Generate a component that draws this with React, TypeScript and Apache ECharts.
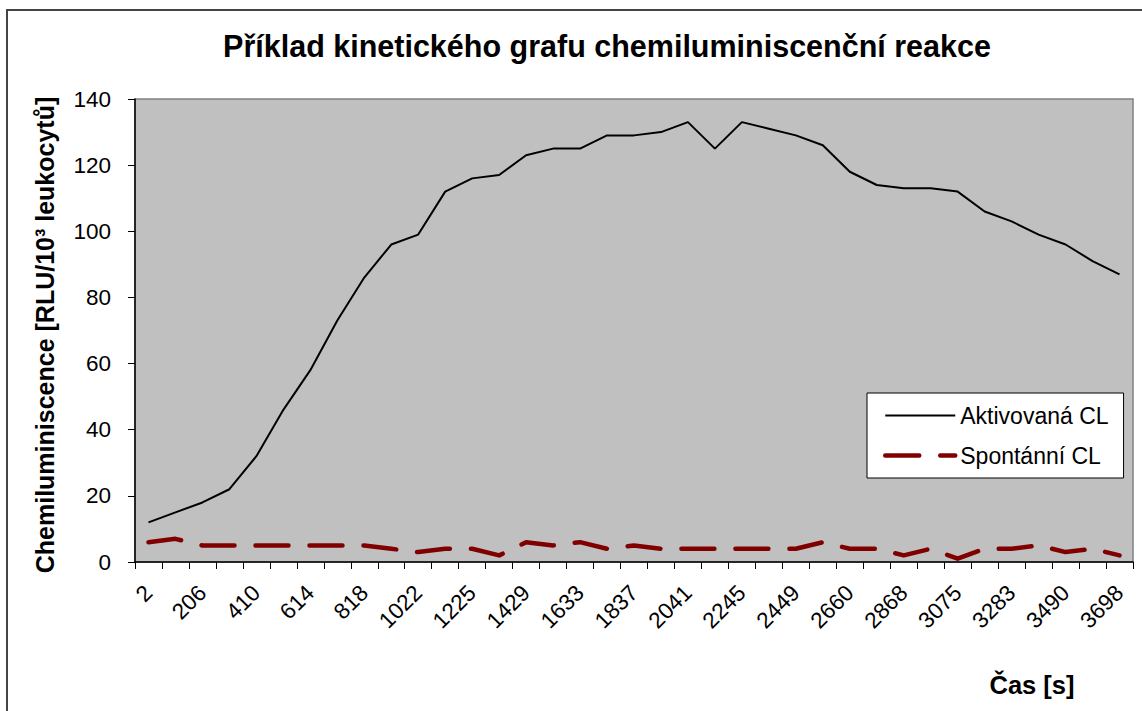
import React, { useEffect, useRef } from "react";
import * as echarts from "echarts";

const categories = [
  "2", "104", "206", "308", "410", "512", "614", "716", "818", "920",
  "1022", "1124", "1225", "1327", "1429", "1531", "1633", "1735", "1837", "1939",
  "2041", "2143", "2245", "2347", "2449", "2555", "2660", "2764", "2868", "2972",
  "3075", "3179", "3283", "3387", "3490", "3594", "3698",
];

const aktivovana = [
  12, 15, 18, 22, 32, 46, 58, 73, 86, 96,
  99, 112, 116, 117, 123, 125, 125, 129, 129, 130,
  133, 125, 133, 131, 129, 126, 118, 114, 113, 113,
  112, 106, 103, 99, 96, 91, 87,
];

const spontanni = [
  6, 7, 5, 5, 5, 5, 5, 5, 5, 4,
  3, 4, 4, 2, 6, 5, 6, 4, 5, 4,
  4, 4, 4, 4, 4, 6, 4, 4, 2, 4,
  1, 4, 4, 5, 3, 4, 2,
];

const titleText = "Příklad kinetického grafu chemiluminiscenční reakce";
const yAxisTitle = "Chemiluminiscence [RLU/10³ leukocytů]";
const xAxisTitle = "Čas [s]";
const seriesNames = ["Aktivovaná CL", "Spontánní CL"];

const FONT = "'Liberation Sans', Arial, sans-serif";

export default function App() {
  const ref = useRef<HTMLDivElement>(null);

  useEffect(() => {
    if (!ref.current) return;
    const chart = echarts.init(ref.current, undefined, { renderer: "svg" });
    chart.setOption({
      animation: false,
      backgroundColor: "#ffffff",
      textStyle: { fontFamily: FONT },
      grid: {
        left: 135,
        right: 9,
        top: 99,
        bottom: 149,
        show: true,
        backgroundColor: "#C0C0C0",
        borderColor: "#808080",
        borderWidth: 1.5,
      },
      graphic: [
        {
          type: "rect",
          shape: { x: 7, y: 10, width: 1200, height: 800 },
          style: { fill: "none", stroke: "#444444", lineWidth: 2 },
          z: -10,
          silent: true,
        },
        {
          type: "text",
          x: 607,
          y: 46,
          style: {
            text: titleText,
            font: `bold 30.5px ${FONT}`,
            fill: "#000",
            textAlign: "center",
            textVerticalAlign: "middle",
          },
        },
        {
          type: "text",
          x: 45,
          y: 335,
          rotation: Math.PI / 2,
          style: {
            text: yAxisTitle,
            font: `bold 25px ${FONT}`,
            fill: "#000",
            textAlign: "center",
            textVerticalAlign: "middle",
          },
        },
        {
          type: "text",
          x: 1032,
          y: 685,
          style: {
            text: xAxisTitle,
            font: `bold 25.5px ${FONT}`,
            fill: "#000",
            textAlign: "center",
            textVerticalAlign: "middle",
          },
        },
      ],
      legend: {
        orient: "vertical",
        left: 867,
        top: 393,
        backgroundColor: "#ffffff",
        borderColor: "#000000",
        borderWidth: 1,
        borderRadius: 0,
        padding: [11, 15, 11, 16],
        itemWidth: 70,
        itemHeight: 16,
        itemGap: 17,
        itemTextGap: 6,
        itemStyle: { opacity: 0 },
        textStyle: { fontFamily: FONT, fontSize: 23, color: "#000" },
        data: [
          {
            name: seriesNames[0],
            lineStyle: { color: "#000000", width: 2 },
          },
          {
            name: seriesNames[1],
            lineStyle: {
              color: "#800000",
              width: 4.5,
              type: [34, 21],
              cap: "round",
            },
          },
        ],
      },
      xAxis: {
        type: "category",
        data: categories,
        boundaryGap: true,
        axisLine: { show: true, lineStyle: { color: "#000", width: 1.5 } },
        axisTick: { show: true, interval: 0, length: 7, lineStyle: { color: "#000" } },
        axisLabel: {
          interval: 1,
          rotate: 45,
          margin: 27,
          fontFamily: FONT,
          fontSize: 22.5,
          color: "#000",
        },
        splitLine: { show: false },
      },
      yAxis: {
        type: "value",
        min: 0,
        max: 140,
        interval: 20,
        axisLine: { show: true, lineStyle: { color: "#000", width: 1.5 } },
        axisTick: { show: true, length: 7, lineStyle: { color: "#000" } },
        axisLabel: {
          margin: 24,
          fontFamily: FONT,
          fontSize: 22.5,
          color: "#000",
        },
        splitLine: { show: false },
      },
      series: [
        {
          name: seriesNames[0],
          type: "line",
          data: aktivovana,
          symbol: "none",
          lineStyle: { color: "#000000", width: 2 },
          itemStyle: { color: "#000000" },
        },
        {
          name: seriesNames[1],
          type: "line",
          data: spontanni,
          symbol: "none",
          lineStyle: {
            color: "#800000",
            width: 4.5,
            type: [33, 21],
            cap: "round",
            join: "round",
          },
          itemStyle: { color: "#800000" },
        },
      ],
    });
    return () => chart.dispose();
  }, []);

  return (
    <div
      ref={ref}
      style={{ position: "fixed", left: 0, top: 0, width: 1142, height: 711 }}
    />
  );
}
